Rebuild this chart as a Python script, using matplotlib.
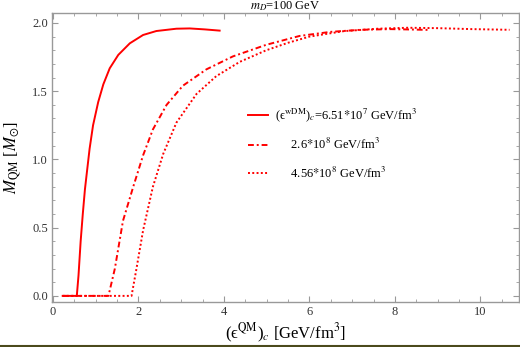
import numpy as np
import matplotlib.pyplot as plt
from matplotlib.lines import Line2D
from matplotlib.ticker import MultipleLocator

plt.rcParams['font.family'] = ['Liberation Serif', 'DejaVu Serif']
plt.rcParams['mathtext.fontset'] = 'stix'

# (eps^QM)_c [GeV/fm^3] vs M_QM [M_sun]
x_a = [0.23, 0.56, 0.60, 0.65, 0.70, 0.75, 0.79, 0.86, 0.94, 1.06, 1.18, 1.33, 1.53, 1.80,
       2.11, 2.42, 2.89, 3.2, 3.55, 3.9]
m_a = [0.0, 0.0, 0.15, 0.40, 0.60, 0.78, 0.89, 1.08, 1.25, 1.42, 1.55, 1.668, 1.766, 1.851,
       1.912, 1.941, 1.958, 1.96, 1.953, 1.944]

x_b = [0.23, 1.30, 1.45, 1.64, 1.88, 2.11, 2.34, 2.66, 3.04, 3.59, 4.21, 4.99, 5.77, 6.5,
       7.2, 7.9, 8.4, 8.8]
m_b = [0.0, 0.0, 0.20, 0.55, 0.80, 1.03, 1.22, 1.40, 1.54, 1.66, 1.755, 1.84, 1.905, 1.935,
       1.95, 1.955, 1.952, 1.949]

x_c = [0.23, 1.84, 1.95, 2.11, 2.34, 2.58, 2.89, 3.36, 3.82, 4.37, 4.99, 5.5, 6.0, 6.8,
       7.6, 8.3, 9.0, 9.8, 10.68]
m_c = [0.0, 0.0, 0.19, 0.48, 0.80, 1.04, 1.27, 1.48, 1.61, 1.715, 1.80, 1.855, 1.90, 1.94,
       1.958, 1.965, 1.962, 1.955, 1.95]

labels = [r'(ϵ$^{\rm wDM}$)$_c$=6.51$*$10$^7$ GeV/fm$^3$',
          r'     2.6$*$10$^8$ GeV/fm$^3$',
          r'     4.56$*$10$^8$ GeV/fm$^3$']

fig = plt.figure(figsize=(5.2, 3.47), dpi=100)
ax = fig.add_axes([0.1, 0.13, 0.898, 0.8325])

ax.plot(x_a, m_a, color='red', lw=1.4, solid_joinstyle='round')
ax.plot(x_b, m_b, color='red', lw=1.4, linestyle=(0, (3, 1.5, 1, 1.5)))
ax.plot(x_c, m_c, color='red', lw=1.4, linestyle=(0, (1, 1.2)))

ax.set_xlim(-0.02, 10.9)
ax.set_ylim(-0.044, 2.073)

ax.xaxis.set_major_locator(MultipleLocator(2))
ax.xaxis.set_minor_locator(MultipleLocator(0.5))
ax.yaxis.set_major_locator(MultipleLocator(0.5))
ax.yaxis.set_minor_locator(MultipleLocator(0.1))
ax.xaxis.set_major_formatter(plt.FuncFormatter(lambda v, p: '%d' % v))
ax.yaxis.set_major_formatter(plt.FuncFormatter(lambda v, p: '%.1f' % v))
ax.tick_params(which='both', direction='in', top=True, right=True, color='#999999',
               labelsize=9, labelcolor='#333333', pad=3)
ax.tick_params(which='major', length=4, width=0.8)
ax.tick_params(which='minor', length=2, width=0.6)
for s in ax.spines.values():
    s.set_color('#999999')
    s.set_linewidth(1.0)

ax.set_xlabel(r'(ϵ$^{\rm QM}$)$_c$ [GeV/fm$^3$]', fontsize=12, labelpad=3)
ax.set_ylabel(r'$M_{\rm QM}$ [$M_{\odot}$]', fontsize=12, labelpad=6)
ax.set_title(r'$m_D$=100 GeV', fontsize=9, pad=1)

handles = [Line2D([], [], color='red', lw=1.4),
           Line2D([], [], color='red', lw=1.4, linestyle=(0, (3, 1.5, 1, 1.5))),
           Line2D([], [], color='red', lw=1.4, linestyle=(0, (1, 1.2)))]
ax.legend(handles, labels, loc='upper left', bbox_to_anchor=(0.395, 0.715), frameon=False,
          fontsize=9, handlelength=1.6, handletextpad=0.6, labelspacing=1.05)

fig.add_artist(Line2D([0, 1], [0.002, 0.002], transform=fig.transFigure,
                      color='#4b4a1c', lw=1.5))

fig.savefig('out.png', dpi=100)
